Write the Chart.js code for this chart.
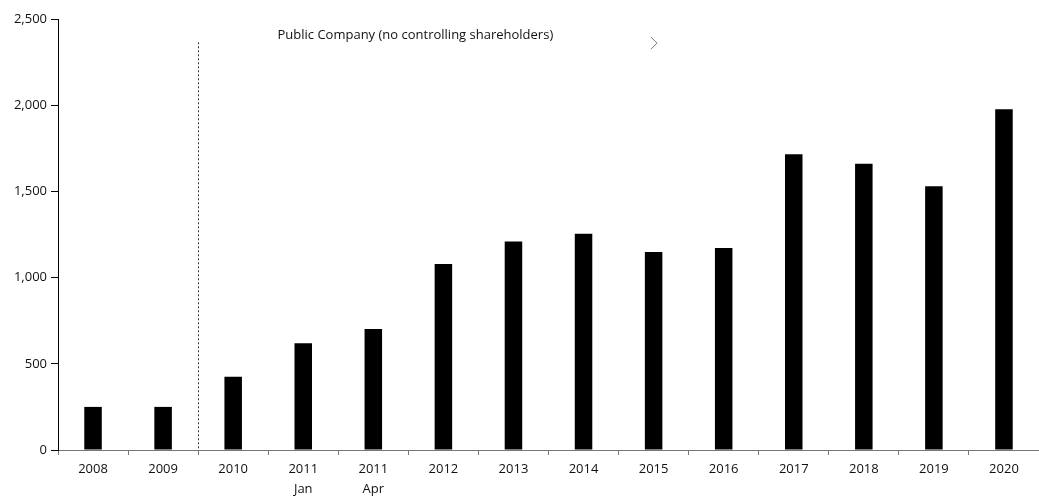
<!DOCTYPE html>
<html><head><meta charset="utf-8">
<script src="https://cdn.jsdelivr.net/npm/chart.js@4"></script>
<style>html,body{margin:0;padding:0;background:#fff}#wrap{width:1039px;height:500px}</style>
</head><body><div id="wrap"><canvas id="c"></canvas></div>
<script>
const categories = [["2008"],["2009"],["2010"],["2011","Jan"],["2011","Apr"],["2012"],["2013"],["2014"],["2015"],["2016"],["2017"],["2018"],["2019"],["2020"]];
const values = [250, 250, 425, 619, 702, 1079, 1210, 1255, 1148, 1172, 1715, 1661, 1530, 1976];
const yTicks = [0, 500, 1000, 1500, 2000, 2500];
const annotationText = "Public Company (no controlling shareholders)";

const overlay = {
  id: 'overlay',
  afterDatasetsDraw(chart) {
    const {ctx, scales:{x, y}} = chart;
    const xd = Math.round((x.getPixelForValue(1) + x.getPixelForValue(2)) / 2) + 0.5;
    ctx.save();
    ctx.strokeStyle = '#333';
    ctx.lineWidth = 1;
    ctx.setLineDash([2, 2]);
    ctx.beginPath();
    ctx.moveTo(xd, y.getPixelForValue(2365));
    ctx.lineTo(xd, y.getPixelForValue(0));
    ctx.stroke();
    ctx.setLineDash([]);
    ctx.fillStyle = '#111';
    ctx.font = '13px "Open Sans", sans-serif';
    ctx.textBaseline = 'middle';
    ctx.textAlign = 'left';
    ctx.fillText(annotationText, xd + 79, y.getPixelForValue(2405));
    // chevron
    const cx = xd + 452.5, cy = y.getPixelForValue(2360);
    ctx.strokeStyle = '#777';
    ctx.beginPath();
    ctx.moveTo(cx, cy - 6);
    ctx.lineTo(cx + 6, cy);
    ctx.lineTo(cx, cy + 6);
    ctx.stroke();
    ctx.restore();
  }
};

new Chart(document.getElementById('c'), {
  type: 'bar',
  data: { labels: categories, datasets: [{ data: values, backgroundColor: '#000', borderWidth: 0, barPercentage: 0.25, categoryPercentage: 1 }] },
  options: {
    responsive: true, maintainAspectRatio: false, animation: false,
    layout: { padding: { top: 19, right: 0, left: 0, bottom: 0 } },
    plugins: { legend: { display: false }, tooltip: { enabled: false } },
    scales: {
      x: {
        afterFit(s) { s.height = 50; },
        grid: { drawOnChartArea: false, offset: true, tickLength: 5, color: '#777' },
        border: { color: '#777', width: 1 },
        ticks: { color: '#111', font: { family: '"Open Sans", sans-serif', size: 13, lineHeight: 1.55 }, maxRotation: 0, autoSkip: false, padding: 4 }
      },
      y: {
        min: 0, max: 2500,
        afterBuildTicks(s) { s.ticks = yTicks.map(v => ({ value: v })); },
        afterFit(s) { s.width = 58; },
        grid: { drawOnChartArea: false, tickLength: 7, color: '#000' },
        border: { color: '#000', width: 1 },
        ticks: { color: '#111', padding: 4, font: { family: '"Open Sans", sans-serif', size: 13 }, callback: v => v.toLocaleString('en-US') }
      }
    }
  },
  plugins: [overlay]
});
</script></body></html>
